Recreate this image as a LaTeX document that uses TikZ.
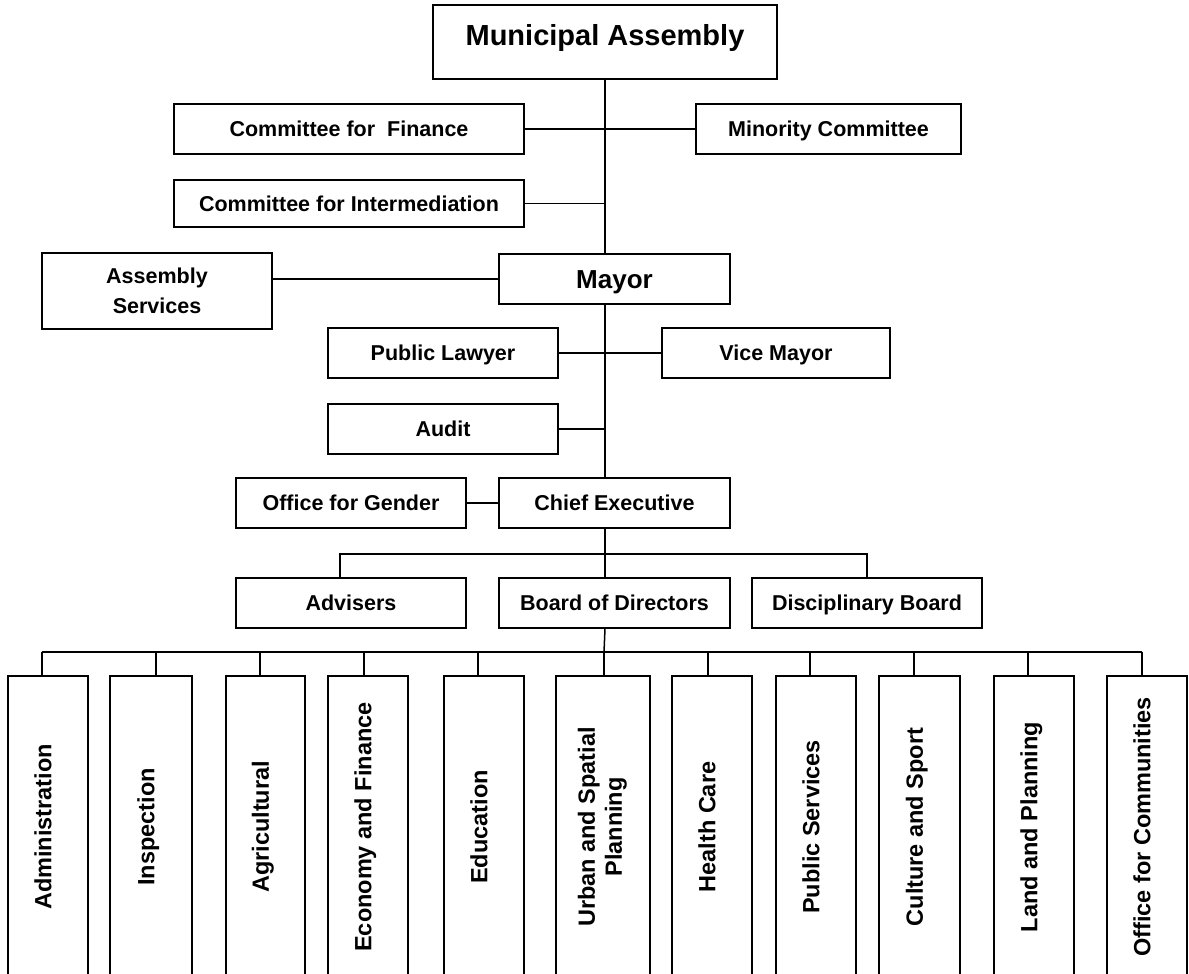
\documentclass[tikz,border=0pt]{standalone}
\usepackage{fontspec}
\setmainfont{Liberation Sans}
\newcommand{\vlabel}[1]{\rotatebox{90}{\raisebox{0pt}[0.716em][0.43em]{#1}}}

\begin{document}
\begin{tikzpicture}[x=1pt,y=-1pt,line width=1.5pt,every node/.append style={align=center},
  box/.style={rectangle,draw,line width=1.5pt,inner sep=0pt,minimum width=230pt,minimum height=50pt,font=\bfseries\fontsize{21.5}{30}\selectfont},
  unit/.style={box,text height=15.4pt,text depth=0pt},
  head/.style={unit,text height=18.6pt,font=\bfseries\fontsize{26}{30}\selectfont},
  dept/.style={rectangle,draw,line width=1.5pt,inner sep=0pt,minimum width=80pt,minimum height=302pt,font=\bfseries\fontsize{23.5}{27}\selectfont}]
    \clip (0,0) rectangle (1189,974);
    % assembly level
    \node [head, minimum width=344pt, minimum height=74pt, text height=20.8pt, text depth=14pt, font=\bfseries\fontsize{29}{32}\selectfont] (assembly) at (605,42) {Municipal Assembly};
    \node [unit, minimum width=350pt] (finance) at (349,129) {Committee for~~Finance};
    \node [unit, minimum width=265pt] (minority) at (828.5,129) {Minority Committee};
    \node [unit, minimum width=350pt, minimum height=47pt] (intermed) at (349,203.5) {Committee for Intermediation};
    % mayor level
    \node [head, minimum width=231pt] (mayor) at (614.5,279) {Mayor};
    \node [box, minimum height=76pt] (asmserv) at (157,291) {Assembly\\Services};
    \node [unit] (publaw) at (443,353) {Public Lawyer};
    \node [unit, minimum width=228pt] (vicemayor) at (776,353) {Vice Mayor};
    \node [unit] (audit) at (443,429) {Audit};
    % executive level
    \node [unit, minimum width=231pt] (chief) at (614.5,503) {Chief Executive};
    \node [unit] (gender) at (351,503) {Office for Gender};
    \node [unit] (advisers) at (351,603) {Advisers};
    \node [unit, minimum width=231pt] (board) at (614.5,603) {Board of Directors};
    \node [unit] (discip) at (867,603) {Disciplinary Board};
    % departments
    \node [dept] (admin) at (48,827) {\vlabel{Administration}};
    \node [dept, minimum width=82pt] (inspect) at (151,827) {\vlabel{Inspection}};
    \node [dept, minimum width=79pt] (agri) at (265.5,827) {\vlabel{Agricultural}};
    \node [dept] (econ) at (368,827) {\vlabel{Economy and Finance}};
    \node [dept] (educ) at (484,827) {\vlabel{Education}};
    \node [dept, minimum width=94pt] (urban) at (603,827) {\rotatebox{90}{\begin{tabular}{@{}c@{}}Urban and Spatial\\Planning\end{tabular}}};
    \node [dept] (health) at (712,827) {\vlabel{Health Care}};
    \node [dept] (pubserv) at (816,827) {\vlabel{Public Services}};
    \node [dept, minimum width=81pt] (culture) at (919.5,827) {\vlabel{Culture and Sport}};
    \node [dept] (land) at (1034,827) {\vlabel{Land and Planning}};
    \node [dept] (offcom) at (1147,827) {\vlabel{Office for Communities}};
    \coordinate (barA) at (604,554);
    \coordinate (barB) at (604,652);
    % trunk
    \draw (assembly.south) -- (assembly.south |- mayor.north);
    \draw (assembly.south |- mayor.south) -- (assembly.south |- chief.north);
    \draw (assembly.south |- chief.south) -- (assembly.south |- board.north);
    \draw (assembly.south |- board.south) -- (barB);
    % side branches
    \draw (finance.east) -- (finance.east -| assembly.south);
    \draw (minority.west) -- (minority.west -| assembly.south);
    \draw (intermed.east) -- (intermed.east -| assembly.south);
    \draw (mayor.west) -- (mayor.west -| asmserv.east);
    \draw (publaw) -- (vicemayor);
    \draw (audit.east) -- (audit.east -| assembly.south);
    \draw (gender) -- (chief);
    \draw ([xshift=-11pt]advisers.north) |- (barA) -| (discip.north);
    % departments bar
    \draw ([xshift=-6pt]admin.north |- barB) -- ([xshift=-5pt]offcom.north |- barB);
    \foreach \d/\s in {admin/-6,inspect/5,agri/-5.5,econ/-4,educ/-6,urban/1,health/-4,pubserv/-6,culture/-5.5,land/-6,offcom/-5}
        \draw ([xshift=\s pt]\d.north) -- ([xshift=\s pt]\d.north |- barB);
\end{tikzpicture}
\end{document}
